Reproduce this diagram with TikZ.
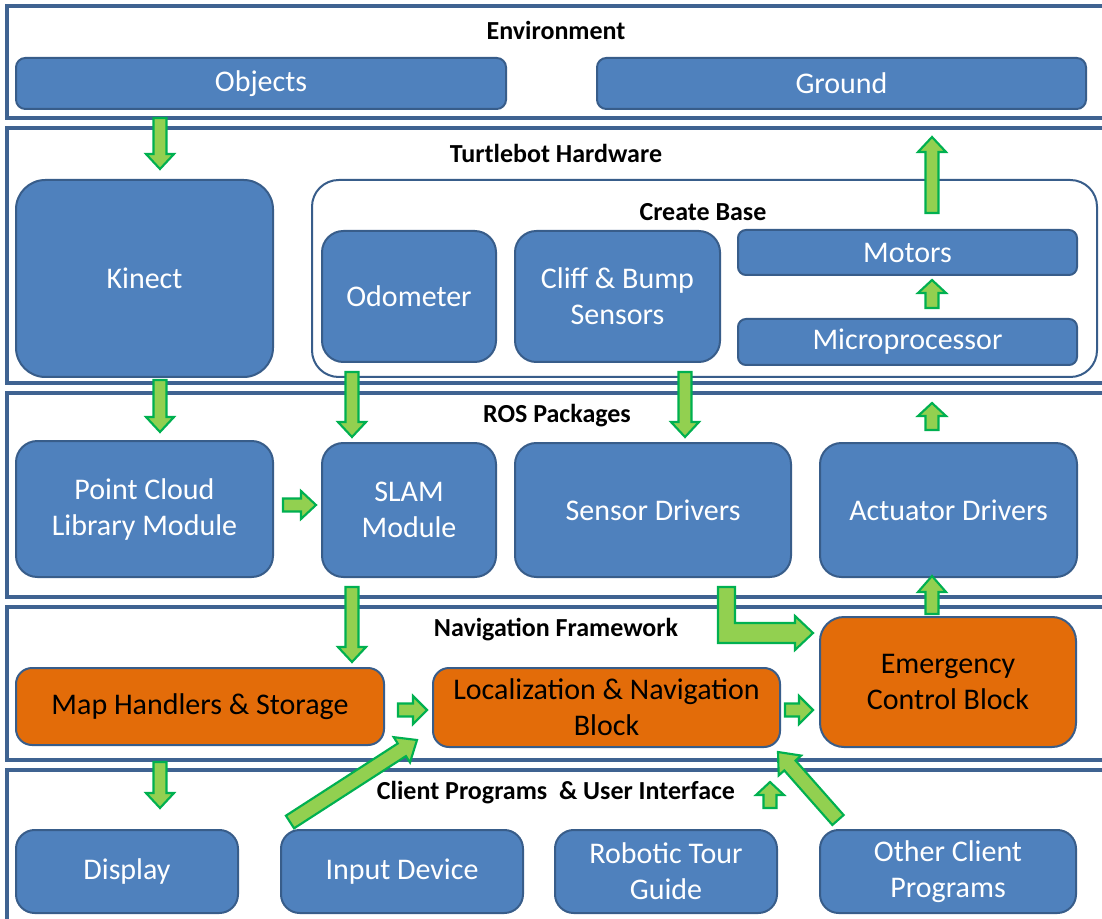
\documentclass[tikz,border=0pt]{standalone}
\usepackage{fontspec}
\setmainfont{Carlito}
\usetikzlibrary{calc}
\definecolor{boxblue}{HTML}{4F81BD}
\definecolor{boxline}{HTML}{385D8A}
\definecolor{frameline}{HTML}{3F6391}
\definecolor{boxorange}{HTML}{E36C09}
\definecolor{agreen}{HTML}{92D050}
\definecolor{aline}{HTML}{00B050}
\tikzset{
  frame/.style={draw=frameline, line width=2.3pt},
  sz/.style 2 args={minimum width=#1*0.75pt, minimum height=#2*0.75pt},
  bbox/.style={draw=boxline, line width=1.5pt, fill=boxblue, text=white, align=center,
    font=\fontsize{22.5}{27}\selectfont, inner sep=0pt},
  obox/.style={bbox, fill=boxorange, text=black},
  cbase/.style={draw=boxline, line width=1.5pt, fill=white, inner sep=0pt},
  ttl/.style={font=\bfseries\fontsize{19.5}{22}\selectfont},
  garrow/.style={fill=agreen, draw=aline, line width=1.6pt, line join=miter},
}
% block arrow: from, to, half shaft, half head, head length (px)
\newcommand\gbarrow[5]{%
  \filldraw[garrow] let \p1=(#1), \p2=(#2),
    \n1={veclen(\x2-\x1,\y2-\y1)}, \n2={(\x2-\x1)/\n1}, \n3={(\y2-\y1)/\n1},
    \n4={#3*0.75}, \n5={#4*0.75}, \n6={#5*0.75} in
    ({\x1-(\n3)*(\n4)},{\y1+(\n2)*(\n4)})
    -- ({\x2-(\n2)*(\n6)-(\n3)*(\n4)},{\y2-(\n3)*(\n6)+(\n2)*(\n4)})
    -- ({\x2-(\n2)*(\n6)-(\n3)*(\n5)},{\y2-(\n3)*(\n6)+(\n2)*(\n5)})
    -- (\p2)
    -- ({\x2-(\n2)*(\n6)+(\n3)*(\n5)},{\y2-(\n3)*(\n6)-(\n2)*(\n5)})
    -- ({\x2-(\n2)*(\n6)+(\n3)*(\n4)},{\y2-(\n3)*(\n6)-(\n2)*(\n4)})
    -- ({\x1+(\n3)*(\n4)},{\y1-(\n2)*(\n4)}) -- cycle;}
\begin{document}
\begin{tikzpicture}[x=0.75pt, y=-0.75pt]
\useasboundingbox (0,0) rectangle (1102,919);
\fill[white] (0,0) rectangle (1102,919);
\clip (0,0) rectangle (1102,919);

% layer frames
\draw[frame] (7,6) rectangle (1115,118);
\draw[frame] (7,128) rectangle (1115,383);
\draw[frame] (7,393) rectangle (1115,597);
\draw[frame] (7,607) rectangle (1115,760);
\draw[frame] (7,770) rectangle (1115,935);

\node[ttl] (tenv) at (556,30) {Environment};
\node[ttl] (ttb) at (556,153) {Turtlebot Hardware};
\node[ttl] (tros) at (557,416) {ROS Packages};
\node[ttl] (tnav) at (556,630) {Navigation Framework};
\node[ttl] (tcli) at (556,793) {Client Programs\ \ \& User Interface};

% Environment
\node[bbox, sz={490}{51}, rounded corners=7pt] (obj) at (261,83.5) {Objects};
\node[bbox, sz={489}{51}, rounded corners=7pt] (gnd) at (841.5,83.5) {Ground};

% Turtlebot hardware
\node[bbox, sz={257}{197}, rounded corners=22pt] (kin) at (144.5,278.5) {Kinect};
\node[cbase, sz={785}{197}, rounded corners=20pt] (cb) at (704.5,278.5) {};
\node[ttl] (tcb) at (703,212) {Create Base};
\node[bbox, sz={174}{131}, rounded corners=16pt] (odo) at (409,296.5) {Odometer};
\node[bbox, sz={205}{131}, rounded corners=16pt] (cliff) at (617.5,296.5) {Cliff \& Bump\\Sensors};
\node[bbox, sz={339}{45}, rounded corners=6pt] (mot) at (907.5,252.5) {Motors};
\node[bbox, sz={339}{46}, rounded corners=6pt] (mic) at (907.5,342) {Microprocessor};

% ROS packages
\node[bbox, sz={257}{136}, rounded corners=16pt] (pcl) at (144.5,509) {Point Cloud\\Library Module};
\node[bbox, sz={174}{134}, rounded corners=16pt] (slam) at (409,510) {SLAM\\Module};
\node[bbox, sz={276}{134}, rounded corners=16pt] (sens) at (653,510) {Sensor Drivers};
\node[bbox, sz={257}{134}, rounded corners=16pt] (act) at (948.5,510) {Actuator Drivers};

% Navigation framework
\node[obox, sz={368}{77}, rounded corners=12pt] (map) at (200,706.5) {Map Handlers \& Storage};
\node[obox, sz={347}{79}, rounded corners=12pt] (loc) at (606.5,707.5) {Localization \& Navigation\\Block};
\node[obox, sz={256}{130}, rounded corners=18pt] (emg) at (948,682) {Emergency\\Control Block};

% Client programs
\node[bbox, sz={222}{83}, rounded corners=14pt] (disp) at (127,871.5) {Display};
\node[bbox, sz={242}{83}, rounded corners=14pt] (inp) at (402,871.5) {Input Device};
\node[bbox, sz={222}{83}, rounded corners=14pt] (rob) at (666,871.5) {Robotic Tour\\Guide};
\node[bbox, sz={256}{83}, rounded corners=14pt] (oth) at (948,871.5) {Other Client\\Programs};

% arrow end points
\coordinate (a1s) at (160,118);  \coordinate (a1e) at (160,169);
\coordinate (a2s) at (932,213);  \coordinate (a2e) at (932,137);
\coordinate (a3s) at (932,308);  \coordinate (a3e) at (932,280);
\coordinate (a4s) at (160,380);  \coordinate (a4e) at (160,432);
\coordinate (a5s) at (352,372);  \coordinate (a5e) at (352,437);
\coordinate (a6s) at (685,372);  \coordinate (a6e) at (685,437);
\coordinate (a7s) at (932,430);  \coordinate (a7e) at (932,403);
\coordinate (a8s) at (283,505);  \coordinate (a8e) at (316,505);
\coordinate (a9s) at (352,587);  \coordinate (a9e) at (352,662);
\coordinate (a10s) at (932,614); \coordinate (a10e) at (932,576);
\coordinate (a11s) at (398,710); \coordinate (a11e) at (427,710);
\coordinate (a12s) at (785,710); \coordinate (a12e) at (813,710);
\coordinate (a13s) at (160,762); \coordinate (a13e) at (160,808);
\coordinate (a14s) at (290,822); \coordinate (a14e) at (417,740);
\coordinate (a15s) at (770,808); \coordinate (a15e) at (770,782);
\coordinate (a16s) at (838,820); \coordinate (a16e) at (778,752);

\gbarrow{a1s}{a1e}{6.5}{14}{15}
\gbarrow{a2s}{a2e}{6.5}{14}{15}
\gbarrow{a3s}{a3e}{6.5}{14}{13}
\gbarrow{a4s}{a4e}{6.5}{14}{15}
\gbarrow{a5s}{a5e}{6.5}{14}{15}
\gbarrow{a6s}{a6e}{6.5}{14}{15}
\gbarrow{a7s}{a7e}{6.5}{14}{13}
\gbarrow{a8s}{a8e}{6.5}{14}{15}
\gbarrow{a9s}{a9e}{6.5}{14}{15}
\gbarrow{a10s}{a10e}{6.5}{14}{16}
\gbarrow{a11s}{a11e}{6.5}{14}{14}
\gbarrow{a12s}{a12e}{6.5}{14}{14}
\gbarrow{a13s}{a13e}{6.5}{14}{15}
\gbarrow{a14s}{a14e}{7.5}{15}{18}
\gbarrow{a15s}{a15e}{6.5}{14}{13}
\gbarrow{a16s}{a16e}{7.5}{15}{18}

% L-shaped arrow from Sensor Drivers to Emergency Control Block
\coordinate (lA) at (718,587);
\filldraw[garrow] (lA) -- ++(17,0) -- (735,623) -- (795,623) -- (795,616)
  -- (813,633) -- (795,650) -- (795,643) -- (718,643) -- cycle;
\end{tikzpicture}
\end{document}
